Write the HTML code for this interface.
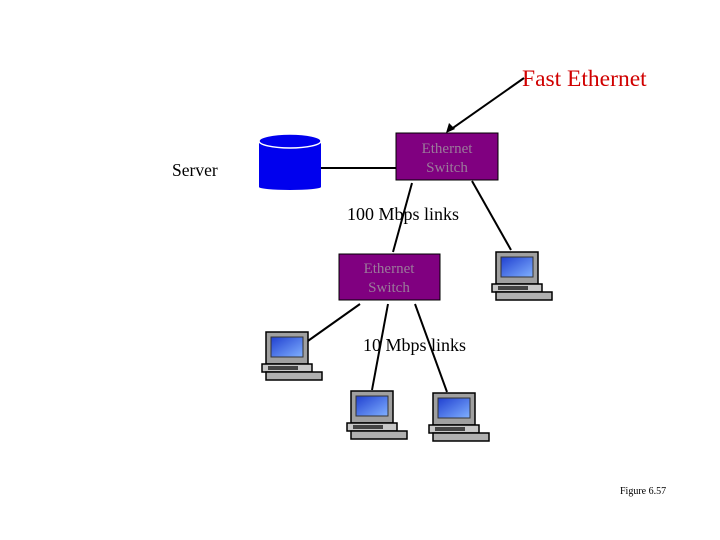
<!DOCTYPE html>
<html><head><style>body{margin:0;background:#fff}svg{display:block}</style></head><body>
<svg width="720" height="540" xmlns="http://www.w3.org/2000/svg" font-family="Liberation Serif, serif">
<defs>
<linearGradient id="scr" x1="0" y1="0" x2="1" y2="1"><stop offset="0" stop-color="#2040d0"/><stop offset="1" stop-color="#80b0ff"/></linearGradient>
<g id="pc">
<rect x="6" y="0" width="42" height="32" fill="#a0a0a0" stroke="#000" stroke-width="1.5"/>
<rect x="11" y="5" width="32" height="20" fill="url(#scr)" stroke="#333"/>
<rect x="2" y="32" width="50" height="8" fill="#c8c8c8" stroke="#000" stroke-width="1.5"/>
<rect x="8" y="34" width="30" height="4" fill="#444"/>
<rect x="6" y="40" width="56" height="8" fill="#b0b0b0" stroke="#000" stroke-width="1.5"/>
</g>
</defs>
<g stroke="#000" stroke-width="2">
<line x1="524" y1="78" x2="450" y2="130"/>
<line x1="321" y1="168" x2="396" y2="168"/>
<line x1="412" y1="183" x2="393" y2="252"/>
<line x1="472" y1="181" x2="511" y2="250"/>
<line x1="360" y1="304" x2="305" y2="343"/>
<line x1="388" y1="304" x2="372" y2="390"/>
<line x1="415" y1="304" x2="447" y2="392"/>
</g>
<polygon points="446,133 449,123 455,129" fill="#000"/>
<text x="522" y="86" font-size="23.5" fill="#d00000">Fast Ethernet</text>
<text x="172" y="176" font-size="17.5">Server</text>
<rect x="259" y="141" width="62" height="46" fill="#0000ee"/>
<ellipse cx="290" cy="187" rx="31" ry="3" fill="#0000ee"/>
<ellipse cx="290" cy="141" rx="31" ry="7" fill="#0000ee" stroke="#fff" stroke-width="1.5"/>
<rect x="396" y="133" width="102" height="47" fill="#800080" stroke="#000"/>
<text x="447" y="153" font-size="15" fill="#9a7a9a" text-anchor="middle">Ethernet</text>
<text x="447" y="172" font-size="15" fill="#9a7a9a" text-anchor="middle">Switch</text>
<rect x="339" y="254" width="101" height="46" fill="#800080" stroke="#000"/>
<text x="389" y="273" font-size="15" fill="#9a7a9a" text-anchor="middle">Ethernet</text>
<text x="389" y="292" font-size="15" fill="#9a7a9a" text-anchor="middle">Switch</text>
<text x="347" y="220" font-size="18">100 Mbps links</text>
<text x="363" y="351" font-size="18">10 Mbps links</text>
<use href="#pc" x="260" y="332"/>
<use href="#pc" x="490" y="252"/>
<use href="#pc" x="345" y="391"/>
<use href="#pc" x="427" y="393"/>
<text x="620" y="494" font-size="10">Figure 6.57</text>
</svg>
</body></html>
